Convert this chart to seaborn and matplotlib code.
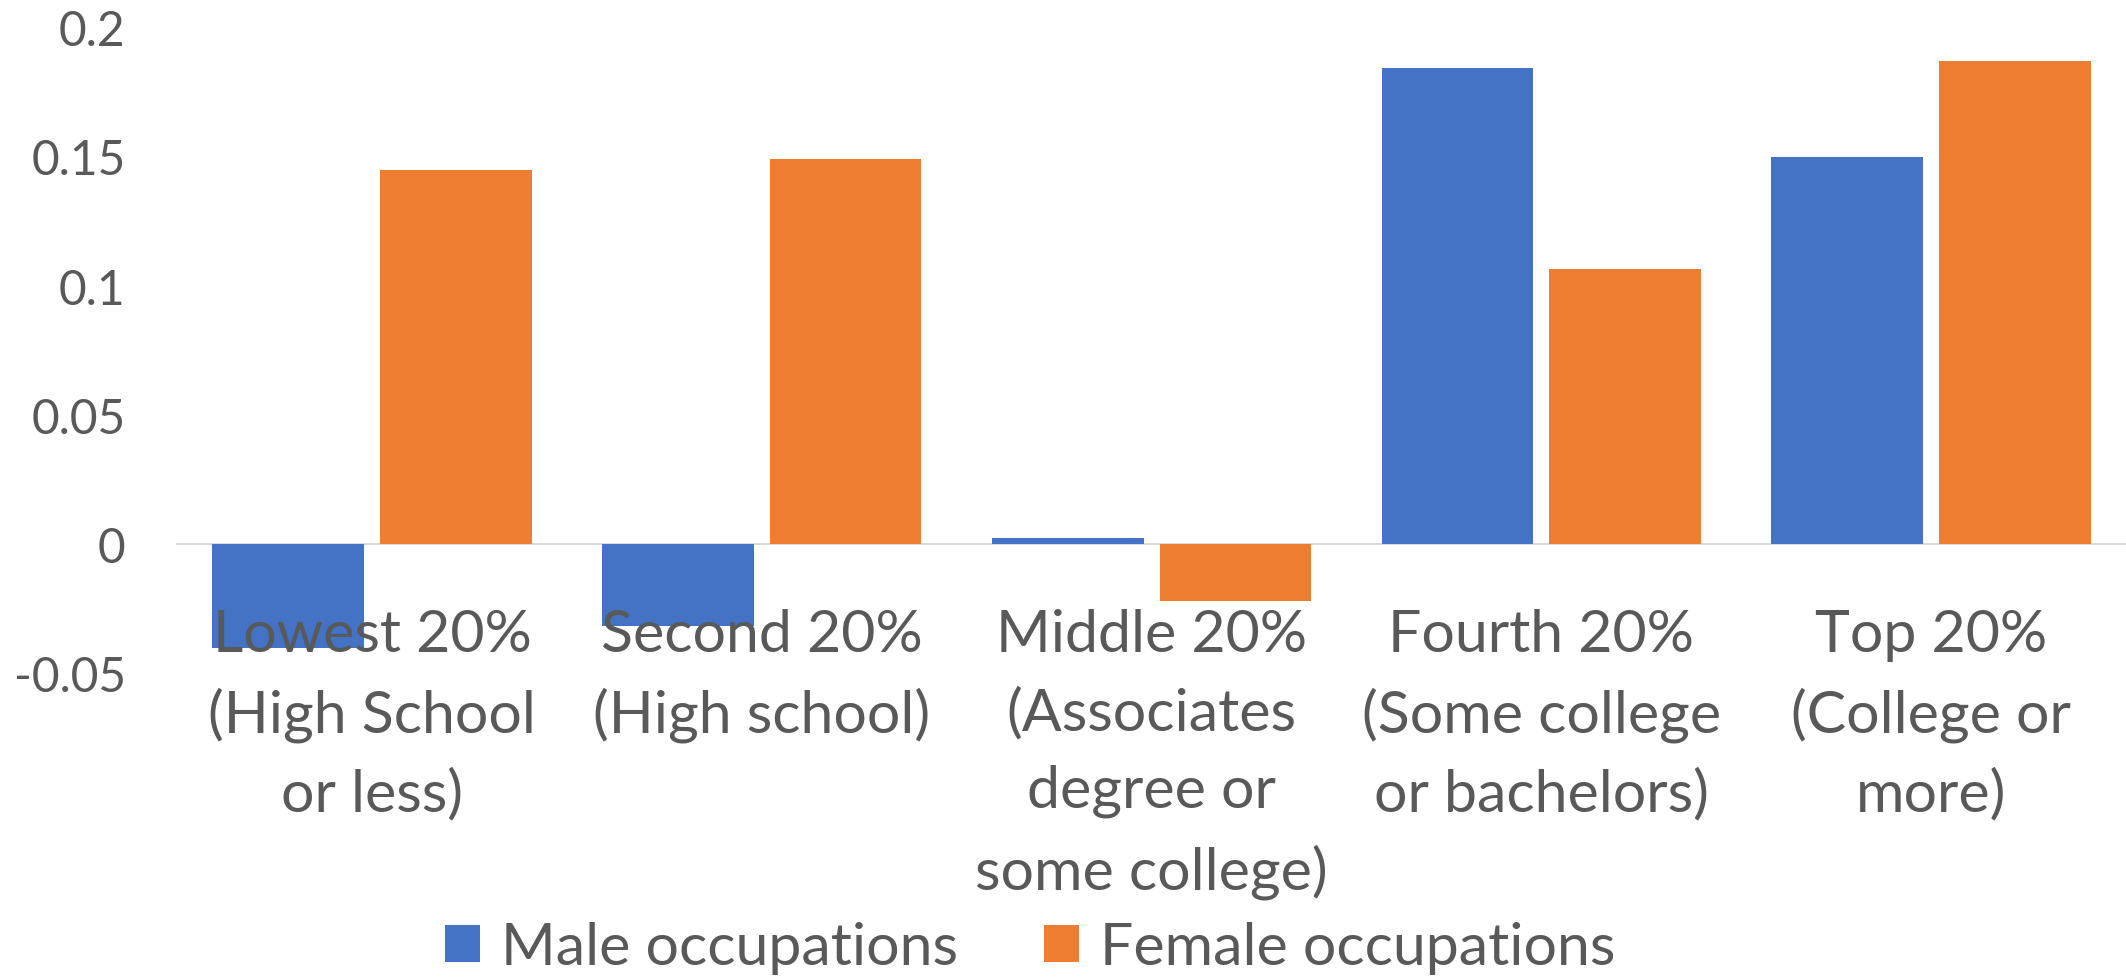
import matplotlib
matplotlib.use("Agg")
import matplotlib.pyplot as plt
import seaborn as sns
import pandas as pd

categories = [
    "Lowest 20%\n(High School\nor less)",
    "Second 20%\n(High school)",
    "Middle 20%\n(Associates\ndegree or\nsome college)",
    "Fourth 20%\n(Some college\nor bachelors)",
    "Top 20%\n(College or\nmore)",
]
series_names = ["Male occupations", "Female occupations"]
male_values = [-0.0405, -0.0318, 0.0024, 0.1842, 0.1497]
female_values = [0.1446, 0.1492, -0.0220, 0.1063, 0.1870]
ytick_values = [-0.05, 0, 0.05, 0.1, 0.15, 0.2]
ytick_labels = ["-0.05", "0", "0.05", "0.1", "0.15", "0.2"]

colors = ["#4472C4", "#ED7D31"]
text_color = "#595959"

df = pd.DataFrame({
    "category": categories * 2,
    "value": male_values + female_values,
    "series": [series_names[0]] * len(categories) + [series_names[1]] * len(categories),
})

sns.set_theme(style="white")
plt.rcParams["font.family"] = ["Lato", "DejaVu Sans"]

fig = plt.figure(figsize=(21.26, 9.78), dpi=100)
ax = fig.add_axes([0.0833, 0.311, 0.9167, 0.66])

sns.barplot(data=df, x="category", y="value", hue="series", order=categories,
            hue_order=series_names, palette=colors, saturation=1,
            width=0.86, gap=0.095, linewidth=0, ax=ax)

ax.set_axisbelow(False)
ax.set_ylim(-0.05, 0.2)
ax.set_xlim(-0.5, len(categories) - 0.5)
ax.set_yticks(ytick_values)
ax.set_yticklabels(ytick_labels)
ax.set_xlabel("")
ax.set_ylabel("")

for s in ["top", "right", "left"]:
    ax.spines[s].set_visible(False)
ax.spines["bottom"].set_position(("data", 0))
ax.spines["bottom"].set_color("#D9D9D9")
ax.spines["bottom"].set_linewidth(1.5)
ax.spines["bottom"].set_zorder(0.8)

ax.tick_params(axis="y", length=0, pad=37, labelsize=34.5, labelcolor=text_color)
ax.tick_params(axis="x", length=0, pad=46, labelsize=42.5, labelcolor=text_color)
for lab in ax.get_xticklabels():
    lab.set_linespacing(1.57)
    lab.set_multialignment("center")

handles, labels = ax.get_legend_handles_labels()
if ax.legend_ is not None:
    ax.legend_.remove()
leg = fig.legend(handles, labels, loc="center", bbox_to_anchor=(1030 / 2126, 1 - 949 / 978),
                 ncol=2, frameon=False, fontsize=42.5, handlelength=0.6, handleheight=0.6,
                 handletextpad=0.35, columnspacing=1.45, borderpad=0)
for t in leg.get_texts():
    t.set_color(text_color)

fig.savefig("out.png", dpi=100)
